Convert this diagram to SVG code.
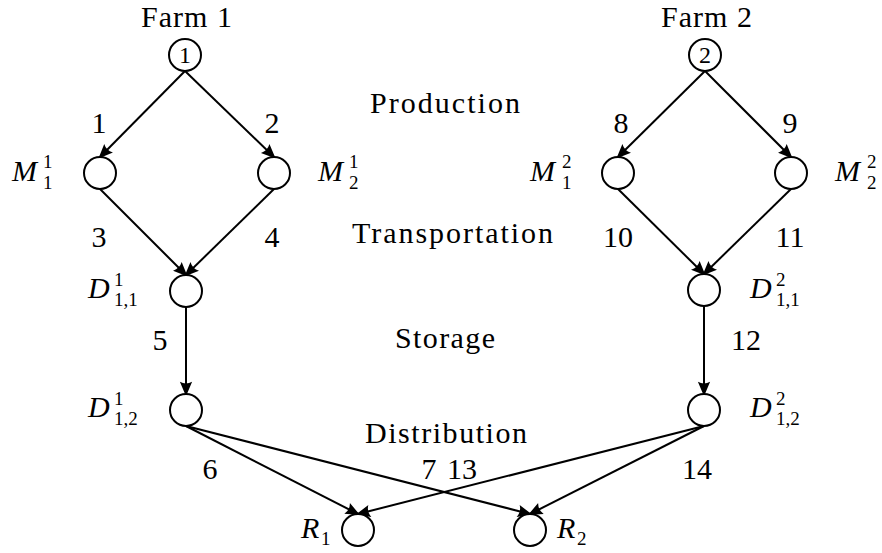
<svg xmlns="http://www.w3.org/2000/svg" width="882" height="553" viewBox="0 0 882 553">
<defs>
<marker id="ah" markerUnits="userSpaceOnUse" markerWidth="20" markerHeight="20" viewBox="-14 -7 18 14" refX="0" refY="0" orient="auto">
<path d="M2,0 L-11,-5.5 Q-8,0 -11,5.5 Z" fill="#000"/>
</marker>
</defs>
<rect width="882" height="553" fill="#fff"/>
<g id="connectors" stroke="#000" stroke-width="2" fill="none">
<line x1="185" y1="71" x2="100" y2="157" marker-end="url(#ah)"/>
<line x1="185" y1="71" x2="274" y2="157" marker-end="url(#ah)"/>
<line x1="100" y1="189" x2="186" y2="275" marker-end="url(#ah)"/>
<line x1="274" y1="189" x2="186" y2="275" marker-end="url(#ah)"/>
<line x1="186" y1="307" x2="186" y2="394" marker-end="url(#ah)"/>
<line x1="186" y1="426" x2="358" y2="514" marker-end="url(#ah)"/>
<line x1="186" y1="426" x2="530" y2="514" marker-end="url(#ah)"/>
<line x1="705" y1="71" x2="618" y2="157" marker-end="url(#ah)"/>
<line x1="705" y1="71" x2="791" y2="157" marker-end="url(#ah)"/>
<line x1="618" y1="189" x2="704" y2="274" marker-end="url(#ah)"/>
<line x1="791" y1="189" x2="704" y2="274" marker-end="url(#ah)"/>
<line x1="704" y1="306" x2="704" y2="394" marker-end="url(#ah)"/>
<line x1="704" y1="426" x2="358" y2="514" marker-end="url(#ah)"/>
<line x1="704" y1="426" x2="530" y2="514" marker-end="url(#ah)"/>
</g>
<g id="edge-labels">
<text font-family="Liberation Serif" font-size="30" text-anchor="middle" x="99" y="133">1</text>
<text font-family="Liberation Serif" font-size="30" text-anchor="middle" x="272" y="133">2</text>
<text font-family="Liberation Serif" font-size="30" text-anchor="middle" x="621" y="133">8</text>
<text font-family="Liberation Serif" font-size="30" text-anchor="middle" x="790" y="133">9</text>
<text font-family="Liberation Serif" font-size="30" text-anchor="middle" x="99" y="247">3</text>
<text font-family="Liberation Serif" font-size="30" text-anchor="middle" x="272" y="247">4</text>
<text font-family="Liberation Serif" font-size="30" text-anchor="middle" x="618" y="247">10</text>
<text font-family="Liberation Serif" font-size="30" text-anchor="middle" x="790" y="247">11</text>
<text font-family="Liberation Serif" font-size="30" text-anchor="middle" x="160" y="350">5</text>
<text font-family="Liberation Serif" font-size="30" text-anchor="middle" x="746" y="350">12</text>
<text font-family="Liberation Serif" font-size="30" text-anchor="middle" x="210" y="479">6</text>
<text font-family="Liberation Serif" font-size="30" text-anchor="middle" x="429" y="479">7</text>
<text font-family="Liberation Serif" font-size="30" text-anchor="middle" x="462" y="479">13</text>
<text font-family="Liberation Serif" font-size="30" text-anchor="middle" x="697" y="479">14</text>
</g>
<g id="stage-labels">
<text font-family="Liberation Serif" font-size="30" x="370" y="113" textLength="150" lengthAdjust="spacing">Production</text>
<text font-family="Liberation Serif" font-size="30" x="352" y="243" textLength="201" lengthAdjust="spacing">Transportation</text>
<text font-family="Liberation Serif" font-size="30" x="395" y="348" textLength="100" lengthAdjust="spacing">Storage</text>
<text font-family="Liberation Serif" font-size="30" x="365" y="443" textLength="162" lengthAdjust="spacing">Distribution</text>
</g>
<g id="farm1">
<text font-family="Liberation Serif" font-size="30" x="141" y="27" textLength="91" lengthAdjust="spacing">Farm 1</text>
<circle cx="185" cy="55" r="16" fill="#fff" stroke="#000" stroke-width="2"/>
<text font-family="Liberation Serif" font-size="24" x="185" y="63" text-anchor="middle">1</text>
</g>
<g id="farm2">
<text font-family="Liberation Serif" font-size="30" x="661" y="27" textLength="91" lengthAdjust="spacing">Farm 2</text>
<circle cx="705" cy="55" r="16" fill="#fff" stroke="#000" stroke-width="2"/>
<text font-family="Liberation Serif" font-size="24" x="705" y="63" text-anchor="middle">2</text>
</g>
<g id="M11">
<circle cx="100" cy="173" r="16" fill="#fff" stroke="#000" stroke-width="2"/>
<text font-family="Liberation Serif" font-size="30" font-style="italic" x="12" y="181">M</text>
<text font-family="Liberation Serif" font-size="19" x="43" y="168">1</text>
<text font-family="Liberation Serif" font-size="19" x="43" y="189">1</text>
</g>
<g id="M21">
<circle cx="274" cy="173" r="16" fill="#fff" stroke="#000" stroke-width="2"/>
<text font-family="Liberation Serif" font-size="30" font-style="italic" x="318" y="181">M</text>
<text font-family="Liberation Serif" font-size="19" x="349" y="168">1</text>
<text font-family="Liberation Serif" font-size="19" x="349" y="189">2</text>
</g>
<g id="M12">
<circle cx="618" cy="173" r="16" fill="#fff" stroke="#000" stroke-width="2"/>
<text font-family="Liberation Serif" font-size="30" font-style="italic" x="530" y="181">M</text>
<text font-family="Liberation Serif" font-size="19" x="562" y="168">2</text>
<text font-family="Liberation Serif" font-size="19" x="562" y="189">1</text>
</g>
<g id="M22">
<circle cx="791" cy="173" r="16" fill="#fff" stroke="#000" stroke-width="2"/>
<text font-family="Liberation Serif" font-size="30" font-style="italic" x="835" y="181">M</text>
<text font-family="Liberation Serif" font-size="19" x="867" y="168">2</text>
<text font-family="Liberation Serif" font-size="19" x="867" y="189">2</text>
</g>
<g id="D11_1">
<circle cx="186" cy="291" r="16" fill="#fff" stroke="#000" stroke-width="2"/>
<text font-family="Liberation Serif" font-size="30" font-style="italic" x="88" y="298">D</text>
<text font-family="Liberation Serif" font-size="19" x="114" y="286">1</text>
<text font-family="Liberation Serif" font-size="19" x="114" y="306">1,1</text>
</g>
<g id="D11_2">
<circle cx="704" cy="290" r="16" fill="#fff" stroke="#000" stroke-width="2"/>
<text font-family="Liberation Serif" font-size="30" font-style="italic" x="750" y="298">D</text>
<text font-family="Liberation Serif" font-size="19" x="776" y="286">2</text>
<text font-family="Liberation Serif" font-size="19" x="776" y="306">1,1</text>
</g>
<g id="D12_1">
<circle cx="186" cy="410" r="16" fill="#fff" stroke="#000" stroke-width="2"/>
<text font-family="Liberation Serif" font-size="30" font-style="italic" x="88" y="417">D</text>
<text font-family="Liberation Serif" font-size="19" x="114" y="405">1</text>
<text font-family="Liberation Serif" font-size="19" x="114" y="425">1,2</text>
</g>
<g id="D12_2">
<circle cx="704" cy="410" r="16" fill="#fff" stroke="#000" stroke-width="2"/>
<text font-family="Liberation Serif" font-size="30" font-style="italic" x="750" y="417">D</text>
<text font-family="Liberation Serif" font-size="19" x="776" y="405">2</text>
<text font-family="Liberation Serif" font-size="19" x="776" y="425">1,2</text>
</g>
<g id="R1">
<circle cx="358" cy="530" r="16" fill="#fff" stroke="#000" stroke-width="2"/>
<text font-family="Liberation Serif" font-size="30" font-style="italic" x="301" y="538">R</text>
<text font-family="Liberation Serif" font-size="19" x="321" y="545">1</text>
</g>
<g id="R2">
<circle cx="530" cy="530" r="16" fill="#fff" stroke="#000" stroke-width="2"/>
<text font-family="Liberation Serif" font-size="30" font-style="italic" x="557" y="538">R</text>
<text font-family="Liberation Serif" font-size="19" x="577" y="545">2</text>
</g>
</svg>
